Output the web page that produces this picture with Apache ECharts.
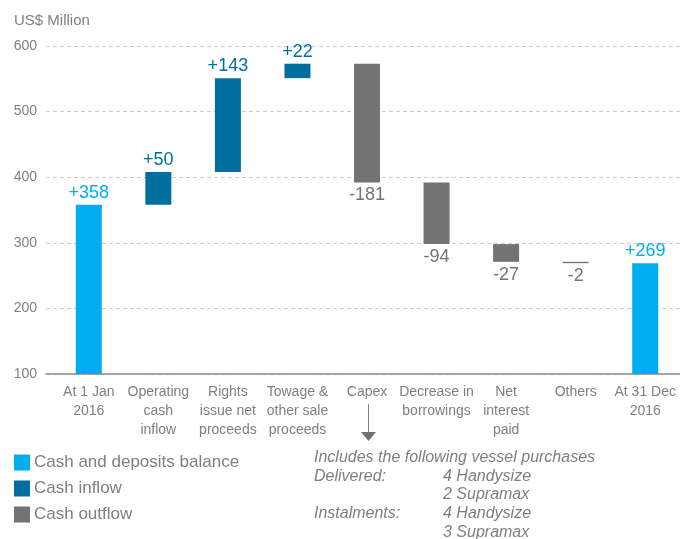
<!DOCTYPE html>
<html><head><meta charset="utf-8">
<script src="https://cdn.jsdelivr.net/npm/echarts@6/dist/echarts.min.js"></script>
<style>html,body{margin:0;padding:0;background:#fff}#c{width:680px;height:539px}</style>
</head><body><div id="c"></div>
<script>
var categories = ['At 1 Jan\n2016','Operating\ncash\ninflow','Rights\nissue net\nproceeds','Towage &\nother sale\nproceeds','Capex','Decrease in\nborrowings','Net\ninterest\npaid','Others','At 31 Dec\n2016'];
var changes = [358, 50, 143, 22, -181, -94, -27, -2, 269];
var kinds = ['balance','inflow','inflow','inflow','outflow','outflow','outflow','outflow','balance'];
var yTicks = [100, 200, 300, 400, 500, 600];
var legendNames = ['Cash and deposits balance','Cash inflow','Cash outflow'];
var noteLines = [
  ['Includes the following vessel purchases', ''],
  ['Delivered:', '4 Handysize'],
  ['', '2 Supramax'],
  ['Instalments:', '4 Handysize'],
  ['', '3 Supramax']
];

var C_BAL = '#00aeef', C_IN = '#006e9f', C_OUT = '#737373', C_TXT = '#7f7f7f';

var base = [], bal = [], inf = [], out = [];
var run = 0;
for (var i = 0; i < changes.length; i++) {
  var v = changes[i];
  if (kinds[i] === 'balance') { base.push('-'); bal.push(v); inf.push('-'); out.push('-'); run = v; }
  else if (kinds[i] === 'inflow') { base.push(run); inf.push(v); bal.push('-'); out.push('-'); run += v; }
  else { run += v; base.push(run); out.push(-v); bal.push('-'); inf.push('-'); }
}
function fmtLabel(p) { var v = changes[p.dataIndex]; return (v > 0 ? '+' : '') + v; }

var chart = echarts.init(document.getElementById('c'), null, {renderer: 'canvas'});
var graphics = [];
var lineY = [458, 477, 495, 514, 533];
noteLines.forEach(function (l, k) {
  var y = lineY[k];
  if (l[0]) graphics.push({type: 'text', left: 314, top: y - 8, style: {text: l[0], font: 'italic 16px "Liberation Sans", Arial', fill: C_TXT}});
  if (l[1]) graphics.push({type: 'text', left: 443, top: y - 8, style: {text: l[1], font: 'italic 16px "Liberation Sans", Arial', fill: C_TXT}});
});
graphics.push({type: 'line', shape: {x1: 368.5, y1: 404, x2: 368.5, y2: 433}, style: {stroke: '#7f7f7f', lineWidth: 1}});
graphics.push({type: 'polygon', shape: {points: [[361, 432], [376, 432], [368.5, 441]]}, style: {fill: '#6f6f6f'}});

chart.setOption({
  animation: false,
  textStyle: {fontFamily: '"Liberation Sans", Arial, sans-serif'},
  title: {text: 'US$ Million', left: 14, top: 13, padding: 0, textStyle: {fontSize: 15, fontWeight: 'normal', color: C_TXT}},
  legend: {
    orient: 'vertical', left: 14, top: 454, padding: 0, itemWidth: 16, itemHeight: 16, itemGap: 9,
    icon: 'rect', data: legendNames, selectedMode: false,
    textStyle: {fontSize: 17, color: C_TXT, padding: [0, 0, 0, -1]}
  },
  grid: [
    {left: 46, right: 0, top: 46, bottom: 165},
    {left: 54, right: -4, top: 46, bottom: 165}
  ],
  xAxis: [
    {type: 'value', gridIndex: 0, min: 0, max: 1, axisLine: {show: true, onZero: false, lineStyle: {color: '#8f8f8f', width: 1.5}}, axisTick: {show: false}, axisLabel: {show: false}, splitLine: {show: false}},
    {type: 'category', gridIndex: 1, data: categories, axisLine: {show: false}, axisTick: {show: false},
     axisLabel: {interval: 0, margin: 9, fontSize: 14, lineHeight: 19, color: C_TXT, verticalAlign: 'top'}}
  ],
  yAxis: [
    {type: 'value', gridIndex: 0, min: yTicks[0], max: yTicks[yTicks.length - 1], interval: 100,
     axisLine: {show: false}, axisTick: {show: false},
     axisLabel: {fontSize: 14, color: C_TXT, margin: 9},
     splitLine: {lineStyle: {type: [4, 3], color: '#cccccc', width: 1.2}}},
    {type: 'value', gridIndex: 1, min: yTicks[0], max: yTicks[yTicks.length - 1], show: false, splitLine: {show: false}}
  ],
  graphic: graphics,
  series: [
    {type: 'bar', name: 'base', xAxisIndex: 1, yAxisIndex: 1, stack: 'w', barWidth: 26, data: base, itemStyle: {color: 'rgba(0,0,0,0)'}, silent: true},
    {type: 'bar', name: legendNames[0], xAxisIndex: 1, yAxisIndex: 1, stack: 'w', barWidth: 26, data: bal, itemStyle: {color: C_BAL},
     label: {show: true, position: 'top', distance: 3, fontSize: 18, color: C_BAL, formatter: fmtLabel}},
    {type: 'bar', name: legendNames[1], xAxisIndex: 1, yAxisIndex: 1, stack: 'w', barWidth: 26, data: inf, itemStyle: {color: C_IN},
     label: {show: true, position: 'top', distance: 3, fontSize: 18, color: C_IN, formatter: fmtLabel}},
    {type: 'bar', name: legendNames[2], xAxisIndex: 1, yAxisIndex: 1, stack: 'w', barWidth: 26, data: out, itemStyle: {color: C_OUT},
     label: {show: true, position: 'bottom', distance: 4, fontSize: 18, color: C_OUT, formatter: fmtLabel}}
  ]
});
</script></body></html>
